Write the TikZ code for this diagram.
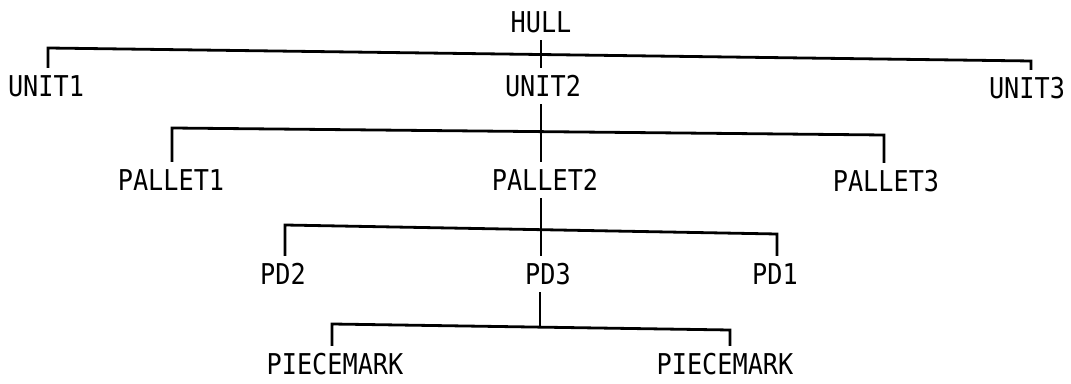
\documentclass[tikz,border=0pt]{standalone}
\usepackage{fontspec}
\setmonofont{DejaVu Sans Mono}[FakeStretch=0.88]
\tikzset{
  item/.style = {font=\ttfamily\fontsize{21.5}{22}\selectfont, text height=15.7pt,
    text depth=0pt, inner xsep=0pt, inner ysep=5.5pt},
  link/.style = {line width=2.1pt, line join=miter}
}
\begin{document}
\begin{tikzpicture}[x=0.75pt, y=-0.75pt]
\useasboundingbox (0,0) rectangle (1071,384);

\node[item] (hull) at (541,22) {HULL};

\node[item] (unit1) at (46,86) {UNIT1};
\node[item] (unit2) at (543,86) {UNIT2};
\node[item] (unit3) at (1027,88) {UNIT3};

\node[item] (pallet1) at (171,180) {PALLET1};
\node[item] (pallet2) at (545,180) {PALLET2};
\node[item] (pallet3) at (886,181) {PALLET3};

\node[item] (pd2) at (283,274) {PD2};
\node[item] (pd3) at (548,274) {PD3};
\node[item] (pd1) at (775,274) {PD1};

\node[item] (piece1) at (335,364) {PIECEMARK};
\node[item] (piece2) at (725,364) {PIECEMARK};

\coordinate (bar1l) at (48,48);
\coordinate (bar1r) at (1031,61);
\coordinate (bar2l) at (172,128);
\coordinate (bar2r) at (884,135);
\coordinate (bar3l) at (285,225);
\coordinate (bar3r) at (777,234);
\coordinate (bar4l) at (332,324);
\coordinate (bar4r) at (730,330);
\coordinate (bar4m) at (540,327);

\draw[link] (bar1l |- unit1.north) -- (bar1l) -- (bar1r) -- (bar1r |- unit3.north);
\draw[link] (hull.south) -- (hull.south |- unit2.north);

\draw[link] (bar2l |- pallet1.north) -- (bar2l) -- (bar2r) -- (bar2r |- pallet3.north);
\draw[link] (unit2.south -| hull.south) -- (hull.south |- pallet2.north);

\draw[link] (bar3l |- pd2.north) -- (bar3l) -- (bar3r) -- (bar3r |- pd1.north);
\draw[link] (pallet2.south -| hull.south) -- (hull.south |- pd3.north);

\draw[link] (bar4l |- piece1.north) -- (bar4l) -- (bar4r) -- (bar4r |- piece2.north);
\draw[link] (pd3.south -| bar4m) -- (bar4m);

\end{tikzpicture}
\end{document}
